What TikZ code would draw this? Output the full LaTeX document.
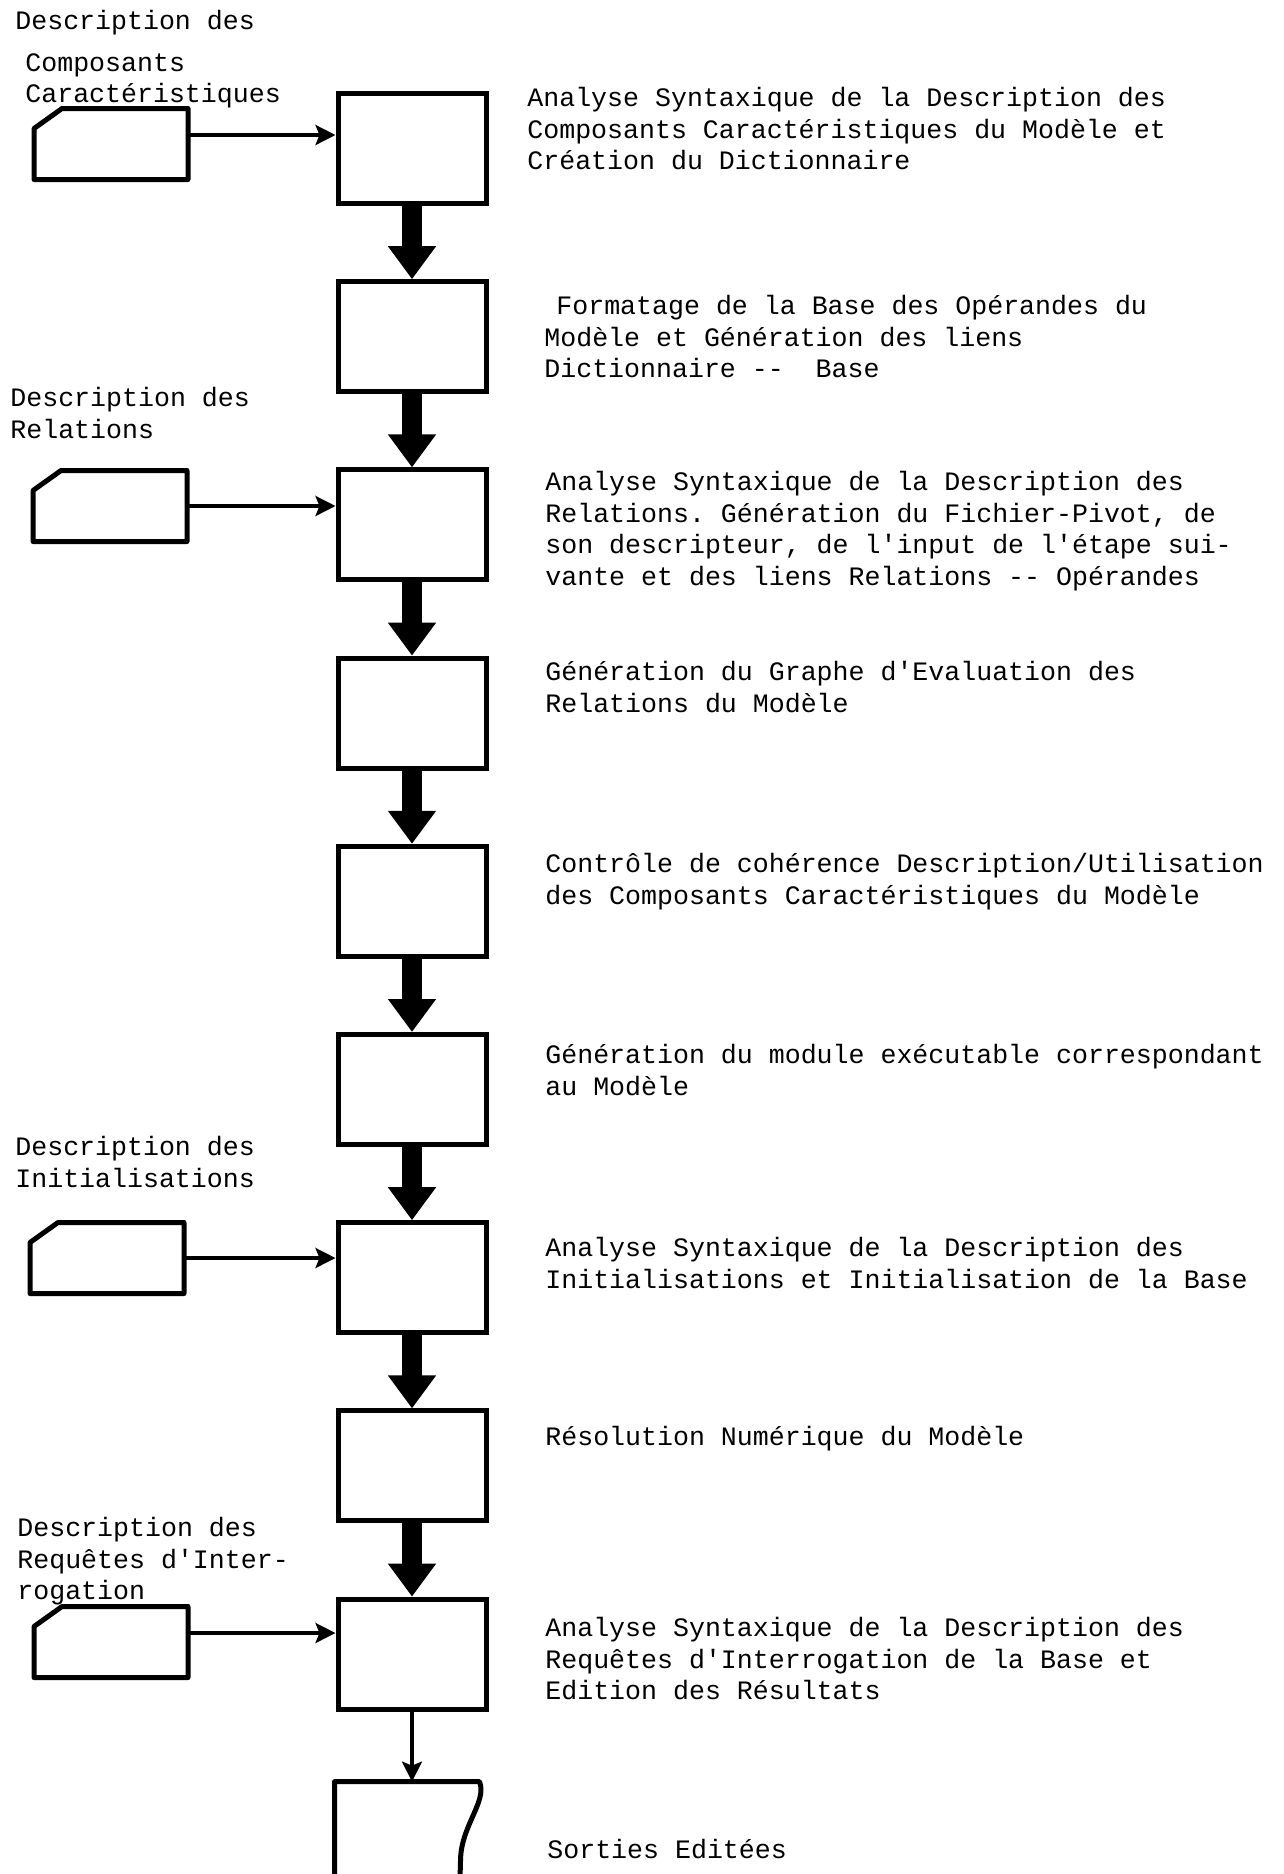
\documentclass[tikz,border=0pt]{standalone}
\usepackage{fontspec}
\setmonofont{Liberation Mono}
\usetikzlibrary{arrows.meta, positioning, calc}

\tikzset{
	etape/.style={draw, line width=2.5pt, minimum width=74pt, minimum height=55pt, inner sep=0pt},
	carte/.style={minimum width=77pt, minimum height=35.5pt, inner sep=0pt, outer sep=0pt},
	doc/.style={minimum width=70pt, minimum height=55pt, outer sep=1.25pt, inner sep=0pt},
	texte/.style={anchor=north west, align=left, inner sep=0pt,
		font=\ttfamily\fontsize{13.3pt}{15.75pt}\selectfont},
	grossefleche/.style={line width=10pt, -{Triangle[length=16.5pt, width=23pt]}},
	fleche/.style={line width=1.7pt, -{Stealth[length=10pt, width=10pt, inset=2pt]}},
	bord/.style={line width=2.5pt, line join=round}
}

\begin{document}
\begin{tikzpicture}[x=0.5pt, y=-0.5pt, node distance=36.6pt]
	\useasboundingbox (0,0) rectangle (1284,1874);
	
	% chaine de traitement
	\node[etape] (analcomp) at (412,148.5) {};
	\node[etape, below=of analcomp] (format) {};
	\node[etape, below=of format] (analrel) {};
	\node[etape, below=of analrel] (graphe) {};
	\node[etape, below=of graphe] (controle) {};
	\node[etape, below=of controle] (module) {};
	\node[etape, below=of module] (analinit) {};
	\node[etape, below=of analinit] (resol) {};
	\node[etape, below=of resol] (analreq) {};
	\node[doc, below=35pt of analreq, xshift=-2.5pt] (sorties) {};
	
	\foreach \a/\b in {analcomp/format, format/analrel, analrel/graphe, graphe/controle,
		controle/module, module/analinit, analinit/resol, resol/analreq}
		\draw[grossefleche] (\a) -- (\b);
	\draw[fleche] (analreq.south) -- (analreq.south |- sorties.north);
	
	% etat imprime
	\draw[bord] (sorties.south west) -- (sorties.north west) -- (sorties.north east)
		.. controls +(8,20) and +(0,-35) .. ($(sorties.east)+(-19,22)$)
		-- ([xshift=-10pt]sorties.south east);
	
	% cartes en entree
	\node[carte] (descomp) at (111,144) {};
	\node[carte] (desrel) at (110,506) {};
	\node[carte] (desinit) at (107,1258) {};
	\node[carte] (desreq) at (111,1642) {};
	
	\foreach \c in {descomp, desrel, desinit, desreq}
		\draw[bord] ([xshift=14pt]\c.north west) -- (\c.north east) -- (\c.south east)
			-- (\c.south west) -- ([yshift=-10pt]\c.north west) -- cycle;
	
	\draw[fleche] ([yshift=4.5pt]descomp.east) -- ([yshift=4.5pt]descomp.east -| analcomp.west);
	\draw[fleche] (desrel.east) -- (desrel.east -| analrel.west);
	\draw[fleche] (desinit.east) -- (desinit.east -| analinit.west);
	\draw[fleche] ([yshift=4.5pt]desreq.east) -- ([yshift=4.5pt]desreq.east -| analreq.west);
	
	\node[texte] (lcomp) at (15,10) {Description des\\[5pt]\hspace*{5pt}Composants\\\hspace*{5pt}Caractéristiques};
	\node[texte] (lrel) at (10,387) {Description des\\Relations};
	\node[texte] (linit) at (15,1136) {Description des\\Initialisations};
	\node[texte] (lreq) at (17,1517) {Description des\\Requêtes d'Inter-\\rogation};
	
	% commentaires des etapes
	\node[texte] (tcomp) at (527,87) {Analyse Syntaxique de la Description des\\Composants Caractéristiques du Modèle et\\Création du Dictionnaire};
	\node[texte] (tformat) at (544,295) {\hspace*{6pt}Formatage de la Base des Opérandes du\\Modèle et Génération des liens\\Dictionnaire --~ Base};
	\node[texte] (trel) at (545,471) {Analyse Syntaxique de la Description des\\Relations. Génération du Fichier-Pivot, de\\son descripteur, de l'input de l'étape sui-\\vante et des liens Relations -- Opérandes};
	\node[texte] (tgraphe) at (545,661) {Génération du Graphe d'Evaluation des\\Relations du Modèle};
	\node[texte] (tcontrole) at (545,853) {Contrôle de cohérence Description/Utilisation\\des Composants Caractéristiques du Modèle};
	\node[texte] (tmodule) at (545,1044) {Génération du module exécutable correspondant\\au Modèle};
	\node[texte] (tinit) at (545,1237) {Analyse Syntaxique de la Description des\\Initialisations et Initialisation de la Base};
	\node[texte] (tresol) at (545,1426) {Résolution Numérique du Modèle};
	\node[texte] (treq) at (545,1617) {Analyse Syntaxique de la Description des\\Requêtes d'Interrogation de la Base et\\Edition des Résultats};
	\node[texte] (tsorties) at (547,1839) {Sorties Editées};
	
\end{tikzpicture}
\end{document}
